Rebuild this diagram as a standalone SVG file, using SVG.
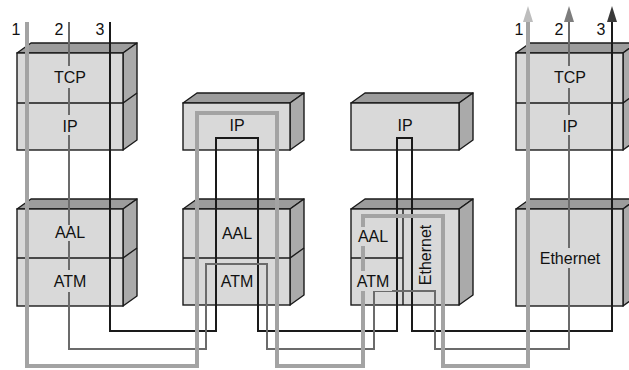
<svg xmlns="http://www.w3.org/2000/svg" width="629" height="370" viewBox="0 0 629 370">
<style>
.front{fill:#d9d9d9;stroke:#1a1a1a;stroke-width:1.4}
.top{fill:#9c9c9c;stroke:#1a1a1a;stroke-width:1.4;stroke-linejoin:round}
.side{fill:#aaaaaa;stroke:#1a1a1a;stroke-width:1.4;stroke-linejoin:round}
.div{stroke:#1a1a1a;stroke-width:1.4;fill:none}
.l1{fill:none;stroke:#a3a3a3;stroke-width:4}
.l2{fill:none;stroke:#6b6b6b;stroke-width:2}
.l3{fill:none;stroke:#1a1a1a;stroke-width:2}
.lbl{font-family:"Liberation Sans",Arial,sans-serif;font-size:16px;fill:#111;text-anchor:middle}
.num{font-family:"Liberation Sans",Arial,sans-serif;font-size:16px;fill:#111;text-anchor:middle}
.bg{fill:#d9d9d9}
</style>
<rect width="629" height="370" fill="#ffffff"/>

<g id="host-left-upper">
<polygon class="top" points="17,53 31,43 137,43 123,53"/>
<polygon class="side" points="123,53 137,43 137,140 123,150"/>
<rect class="front" x="17" y="53" width="106" height="97"/>
<path class="div" d="M17,103 H123 L137,93"/>
</g>
<g id="host-left-lower">
<polygon class="top" points="17,209 31,199 137,199 123,209"/>
<polygon class="side" points="123,209 137,199 137,296 123,306"/>
<rect class="front" x="17" y="209" width="106" height="97"/>
<path class="div" d="M17,258 H123 L137,248"/>
</g>
<g id="router1-ip">
<polygon class="top" points="183,103 197,93 304,93 290,103"/>
<polygon class="side" points="290,103 304,93 304,140 290,150"/>
<rect class="front" x="183" y="103" width="107" height="47"/>
</g>
<g id="router1-lower">
<polygon class="top" points="183,209 197,199 304,199 290,209"/>
<polygon class="side" points="290,209 304,199 304,295 290,305"/>
<rect class="front" x="183" y="209" width="107" height="96"/>
<path class="div" d="M183,258 H290 L304,248"/>
</g>
<g id="router2-ip">
<polygon class="top" points="351,103 365,93 473,93 459,103"/>
<polygon class="side" points="459,103 473,93 473,140 459,150"/>
<rect class="front" x="351" y="103" width="108" height="47"/>
</g>
<g id="router2-lower">
<polygon class="top" points="351,209 365,199 473,199 459,209"/>
<polygon class="side" points="459,209 473,199 473,295 459,305"/>
<rect class="front" x="351" y="209" width="108" height="96"/>
<path class="div" d="M403,209 V305 M351,258 H403"/>
</g>
<g id="host-right-upper">
<polygon class="top" points="516,53 530,43 637,43 623,53"/>
<polygon class="side" points="623,53 637,43 637,140 623,150"/>
<rect class="front" x="516" y="53" width="107" height="97"/>
<path class="div" d="M516,103 H623 L637,93"/>
</g>
<g id="host-right-lower">
<polygon class="top" points="516,209 530,199 637,199 623,209"/>
<polygon class="side" points="623,209 637,199 637,296 623,306"/>
<rect class="front" x="516" y="209" width="107" height="97"/>
</g>

<g id="connectors">
<path class="l3" d="M110,22 V331 H216 V138 H258 V331 H397 V138 H412 V331 H612 V21"/>
<path class="l2" d="M69,22 V349 H206 V264 H267 V349 H374 V291 H435 V349 H569 V21"/>
<path class="l1" d="M27,22 V366 H197 V113 H277 V366 H363 V216 H443 V366 H528 V21"/>
<polygon points="523,22 533,22 528,6" fill="#bdbdbd"/>
<polygon points="564,22 574,22 569,6" fill="#7d7d7d"/>
<polygon points="607,22 617,22 612,6" fill="#3a3a3a"/>
</g>

<g id="labels">
<text class="num" x="16" y="35">1</text>
<text class="num" x="59" y="35">2</text>
<text class="num" x="100" y="35">3</text>
<text class="num" x="519" y="35">1</text>
<text class="num" x="559" y="35">2</text>
<text class="num" x="601" y="35">3</text>

<rect class="bg" x="52" y="66" width="35" height="22"/>
<text class="lbl" x="70" y="83">TCP</text>
<rect class="bg" x="60" y="115" width="19" height="20"/>
<text class="lbl" x="70" y="132">IP</text>
<rect class="bg" x="53" y="225" width="33" height="16"/>
<text class="lbl" x="70" y="238">AAL</text>
<rect class="bg" x="51" y="270" width="37" height="22"/>
<text class="lbl" x="70" y="287">ATM</text>

<text class="lbl" x="237" y="131">IP</text>
<text class="lbl" x="237" y="239">AAL</text>
<text class="lbl" x="237" y="287">ATM</text>

<text class="lbl" x="405" y="131">IP</text>
<rect class="bg" x="356" y="227" width="34" height="19"/>
<text class="lbl" x="373" y="242">AAL</text>
<rect class="bg" x="355" y="271" width="37" height="20"/>
<text class="lbl" x="373" y="287">ATM</text>
<text class="lbl" transform="translate(431,255) rotate(-90)" x="0" y="0">Ethernet</text>

<rect class="bg" x="552" y="66" width="35" height="22"/>
<text class="lbl" x="570" y="83">TCP</text>
<rect class="bg" x="560" y="115" width="19" height="20"/>
<text class="lbl" x="570" y="132">IP</text>
<rect class="bg" x="538" y="248" width="64" height="20"/>
<text class="lbl" x="570" y="264">Ethernet</text>
</g>
</svg>
